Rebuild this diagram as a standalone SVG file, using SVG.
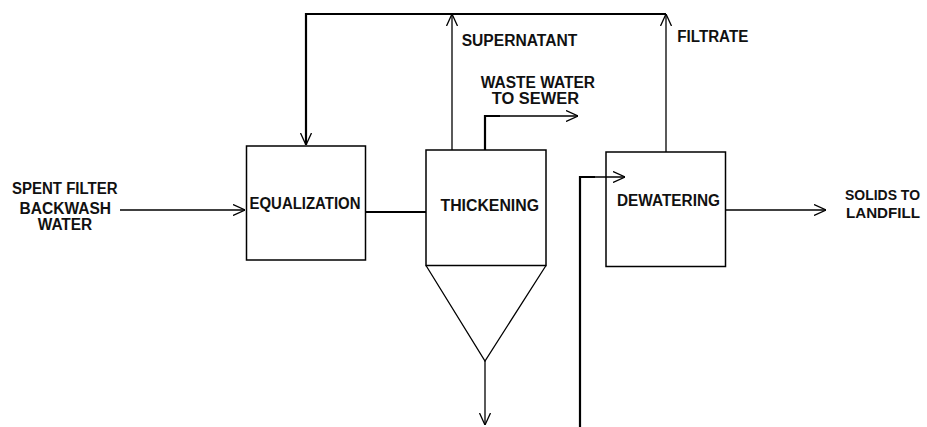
<svg xmlns="http://www.w3.org/2000/svg" width="927" height="427" viewBox="0 0 927 427">
<style>
.box{fill:none;stroke:#000;stroke-width:1.5}
.ln{fill:none;stroke:#000;stroke-width:1.3}
.thk{fill:none;stroke:#000;stroke-width:2.2}
.t{font-family:"Liberation Sans",Arial,sans-serif;font-weight:bold;font-size:16px;fill:#111}
.s{font-size:15px}
</style>
<defs>
<marker id="arr" viewBox="0 0 12 12" refX="12" refY="6" markerWidth="12" markerHeight="12" markerUnits="userSpaceOnUse" orient="auto">
<path d="M0,0.5 L12,6 L0,11.5" fill="none" stroke="#000" stroke-width="1.3"/>
</marker>
</defs>
<rect width="927" height="427" fill="#fff"/>
<g id="equalization">
<rect class="box" x="246.5" y="146" width="119" height="114"/>
<text class="t" x="249.5" y="209" textLength="111" lengthAdjust="spacingAndGlyphs">EQUALIZATION</text>
</g>
<g id="thickening">
<rect class="box" x="426" y="150" width="120" height="115.5"/>
<polyline class="ln" points="426,265.5 485,361 546,265.5"/>
<text class="t" x="440.5" y="210.5" textLength="98.5" lengthAdjust="spacingAndGlyphs">THICKENING</text>
</g>
<g id="dewatering">
<rect class="box" x="606" y="152" width="119.5" height="114.5"/>
<text class="t" x="617" y="206" textLength="103" lengthAdjust="spacingAndGlyphs">DEWATERING</text>
</g>
<g id="connectors">
<line class="ln" x1="120" y1="210" x2="245" y2="210" marker-end="url(#arr)"/>
<line class="thk" x1="366" y1="212" x2="426" y2="212"/>
<polyline class="thk" points="306,145 306,14 666,14"/>
<line class="ln" x1="306" y1="20" x2="306" y2="145" marker-end="url(#arr)"/>
<line class="ln" x1="452" y1="150" x2="452" y2="14" marker-end="url(#arr)"/>
<line class="ln" x1="666" y1="152" x2="666" y2="14" marker-end="url(#arr)"/>
<polyline class="thk" points="485,150 485,116 500,116"/>
<line class="ln" x1="485" y1="116" x2="578" y2="116" marker-end="url(#arr)"/>
<line class="ln" x1="485" y1="361" x2="485" y2="425" marker-end="url(#arr)"/>
<polyline class="thk" points="580,427 580,177 595,177"/>
<line class="ln" x1="580" y1="177" x2="625" y2="177" marker-end="url(#arr)"/>
<line class="ln" x1="726" y1="210" x2="826" y2="210" marker-end="url(#arr)"/>
</g>
<g id="labels">
<text class="t" x="12" y="194" textLength="105.5" lengthAdjust="spacingAndGlyphs">SPENT FILTER</text>
<text class="t" x="19.5" y="213.5" textLength="91.5" lengthAdjust="spacingAndGlyphs">BACKWASH</text>
<text class="t" x="37.7" y="230" textLength="54.5" lengthAdjust="spacingAndGlyphs">WATER</text>
<text class="t" x="461.7" y="45.7" textLength="115.5" lengthAdjust="spacingAndGlyphs">SUPERNATANT</text>
<text class="t" x="677.3" y="41.7" textLength="71" lengthAdjust="spacingAndGlyphs">FILTRATE</text>
<text class="t" x="480.7" y="87.5" textLength="114.3" lengthAdjust="spacingAndGlyphs">WASTE WATER</text>
<text class="t" x="491.7" y="104.3" textLength="87.3" lengthAdjust="spacingAndGlyphs">TO SEWER</text>
<text class="t s" x="845" y="200" textLength="75" lengthAdjust="spacingAndGlyphs">SOLIDS TO</text>
<text class="t s" x="846" y="218.3" textLength="74" lengthAdjust="spacingAndGlyphs">LANDFILL</text>
</g>
</svg>
